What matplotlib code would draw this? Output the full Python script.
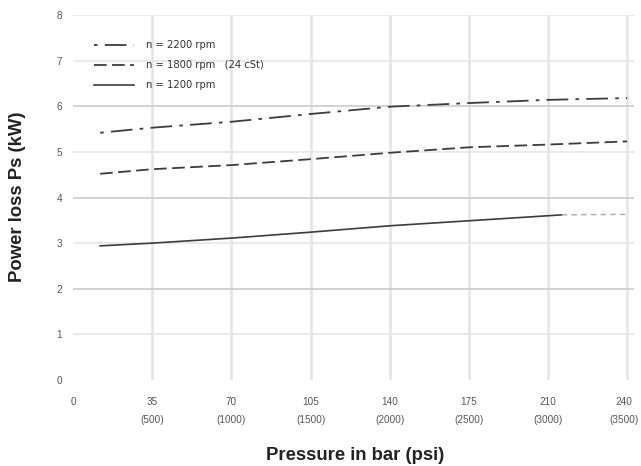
import matplotlib
matplotlib.use("Agg")
import matplotlib.pyplot as plt
import matplotlib.transforms as mtransforms

plt.rcParams['font.family'] = ['DejaVu Sans']

# Data
pressure = [12, 35, 70, 105, 140, 175, 210, 245]
loss_2200 = [5.42, 5.53, 5.66, 5.83, 5.99, 6.07, 6.14, 6.18]
loss_1800 = [4.52, 4.62, 4.71, 4.84, 4.98, 5.10, 5.16, 5.23]
pressure_1200 = [12, 35, 70, 105, 140, 175, 210, 216]
loss_1200 = [2.94, 3.00, 3.11, 3.24, 3.38, 3.49, 3.60, 3.62]
pressure_1200_tail = [216, 245]
loss_1200_tail = [3.62, 3.63]

xtick_pos = [0, 35, 70, 105, 140, 175, 210, 245]
xtick_bar = ["0", "35", "70", "105", "140", "175", "210", "240"]
xtick_psi = ["", "(500)", "(1000)", "(1500)", "(2000)", "(2500)", "(3000)", "(3500)"]
ytick_pos = [0, 1, 2, 3, 4, 5, 6, 7, 8]

legend_labels = ["n = 2200 rpm", "n = 1800 rpm   (24 cSt)", "n = 1200 rpm"]

fig = plt.figure(figsize=(6.41, 4.66), dpi=100)
ax = fig.add_axes([73/641, (466-380)/466, 561/641, 365/466])
ax.set_xlim(0, 248)
ax.set_ylim(0, 8)

# grid
for x in xtick_pos[1:]:
    ax.axvline(x, color='#e4e4e4', lw=1.8, zorder=0)
for y in ytick_pos[1:]:
    c = '#cbcbcb' if y in (2, 4, 6) else '#e6e6e6'
    ax.axhline(y, color=c, lw=1.2, zorder=0)

col = '#3c3c3c'
l1, = ax.plot(pressure, loss_2200, color=col, lw=1.3, dashes=(2, 4, 12, 4))
l2, = ax.plot(pressure, loss_1800, color=col, lw=1.3, dashes=(7, 3))
l3, = ax.plot(pressure_1200, loss_1200, color=col, lw=1.2)
ax.plot(pressure_1200_tail, loss_1200_tail, color='#aaaaaa', lw=1.0, dashes=(4, 3))

for s in ax.spines.values():
    s.set_visible(False)

tick_font = ['Liberation Sans', 'DejaVu Sans']
ax.set_yticks(ytick_pos)
ax.set_yticklabels([str(v) for v in ytick_pos], fontsize=7.2, color='#555555', family=tick_font)
ax.set_xticks(xtick_pos)
ax.set_xticklabels([f"{b}\n{p}" if p else b for b, p in zip(xtick_bar, xtick_psi)],
                   fontsize=7.2, color='#555555', linespacing=2.0, va='top', family=tick_font)
ax.tick_params(length=0, pad=12)
ax.tick_params(axis='y', pad=8)
last = ax.get_xticklabels()[-1]
last.set_transform(last.get_transform() + mtransforms.ScaledTranslation(-3/100, 0, fig.dpi_scale_trans))

lab_font = dict(family=['Liberation Sans', 'DejaVu Sans'], fontsize=13.3, fontweight='bold', color='#222222')
fig.text(18/641, 1 - 197/466, "Power loss Ps (kW)", rotation=90, ha='center', va='center', **lab_font)
fig.text(355/641, 1 - 456/466, "Pressure in bar (psi)", ha='center', va='center', **lab_font)

leg = ax.legend([l1, l2, l3], legend_labels, loc='upper left', bbox_to_anchor=(0.022, 0.955),
                frameon=False, fontsize=7.2, handlelength=4.0, labelspacing=1.0, handletextpad=1.2)
for t in leg.get_texts():
    t.set_color('#333333')

fig.savefig("out.png", dpi=100)
